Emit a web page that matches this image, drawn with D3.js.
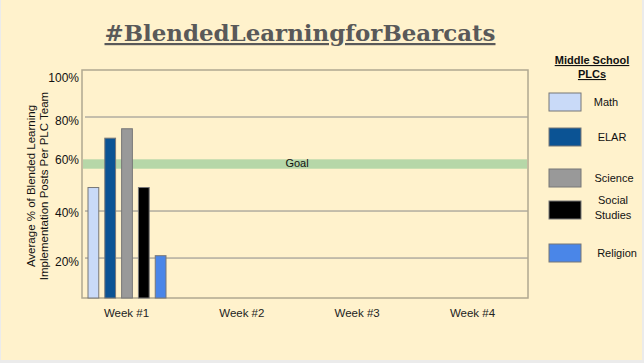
<!DOCTYPE html>
<html>
<head>
<meta charset="utf-8">
<script src="https://cdn.jsdelivr.net/npm/d3@7"></script>
<style>
  body { margin: 0; background: #ebebeb; }
  svg { display: block; }
</style>
</head>
<body>
<svg width="644" height="363"></svg>
<script>
// data
const weeks = ['Week #1', 'Week #2', 'Week #3', 'Week #4'];
const subjects = ['Math', 'ELAR', 'Science', 'Social Studies', 'Religion'];
const week1Values = [50, 71, 75, 50, 21];
const yTicks = [20, 40, 60, 80, 100];
const goalValue = 60;
const colors = ['#c9daf8', '#0b5394', '#999999', '#000000', '#4a86e8'];

const svg = d3.select('svg');

// fond crème
svg.append('rect')
  .attr('x', 1).attr('y', 0)
  .attr('width', 641).attr('height', 360)
  .attr('fill', '#fff2cc');

const plotLeft = 82, plotRight = 528, plotTop = 70, plotBottom = 298;

const y = d3.scaleLinear()
  .domain([3, 100])
  .range([plotBottom, plotTop]);

const x = d3.scalePoint()
  .domain(weeks)
  .range([126, 472]);

const xInner = d3.scaleBand()
  .domain(subjects)
  .range([-38, 40])
  .paddingInner(0.36);

// titre
svg.append('text')
  .attr('x', 300).attr('y', 41)
  .attr('text-anchor', 'middle')
  .attr('font-family', 'DejaVu Serif')
  .attr('font-weight', 'bold')
  .attr('font-size', 22)
  .attr('textLength', 391)
  .attr('lengthAdjust', 'spacingAndGlyphs')
  .attr('fill', '#595959')
  .attr('text-decoration', 'underline')
  .text('#BlendedLearningforBearcats');

// grille
svg.append('g')
  .selectAll('line')
  .data([20, 40, 80])
  .join('line')
  .attr('x1', plotLeft + 3).attr('x2', plotRight)
  .attr('y1', d => y(d)).attr('y2', d => y(d))
  .attr('stroke', '#8a8a8a')
  .attr('stroke-width', 1);

// bande objectif
svg.append('rect')
  .attr('x', plotLeft + 1)
  .attr('width', plotRight - plotLeft - 2)
  .attr('y', y(goalValue + 2))
  .attr('height', y(goalValue - 2) - y(goalValue + 2))
  .attr('fill', '#b6d7a8');

svg.append('text')
  .attr('x', 297).attr('y', y(goalValue) + 3)
  .attr('text-anchor', 'middle')
  .attr('font-family', 'Liberation Sans')
  .attr('font-size', 11)
  .attr('fill', '#111')
  .text('Goal');

// cadre
svg.append('rect')
  .attr('x', plotLeft).attr('y', plotTop)
  .attr('width', plotRight - plotLeft).attr('height', plotBottom - plotTop)
  .attr('fill', 'none')
  .attr('stroke', '#b0a890')
  .attr('stroke-width', 1.5);

// barres
svg.append('g')
  .attr('transform', `translate(${x(weeks[0])},0)`)
  .selectAll('rect')
  .data(week1Values)
  .join('rect')
  .attr('x', (d, i) => xInner(subjects[i]))
  .attr('width', xInner.bandwidth())
  .attr('y', d => y(d))
  .attr('height', d => plotBottom - y(d))
  .attr('fill', (d, i) => colors[i])
  .attr('stroke', '#777')
  .attr('stroke-width', 1);

// axe y
const yAxis = d3.axisLeft(y)
  .tickValues(yTicks)
  .tickSize(0)
  .tickPadding(3)
  .tickFormat(d => d + '%');

svg.append('g')
  .attr('transform', `translate(${plotLeft},0)`)
  .call(yAxis)
  .call(g => g.select('.domain').remove())
  .selectAll('text')
  .attr('font-family', 'Liberation Sans')
  .attr('font-size', 12)
  .attr('fill', '#111')
  .attr('dy', d => ({20: 7, 40: 5, 60: -1, 80: 7, 100: 11})[d] + 'px');

// axe x
svg.append('g')
  .attr('transform', `translate(0,${plotBottom})`)
  .call(d3.axisBottom(x).tickSize(0).tickPadding(11))
  .call(g => g.select('.domain').remove())
  .selectAll('text')
  .attr('font-family', 'Liberation Sans')
  .attr('font-size', 11.5)
  .attr('fill', '#222');

// titre axe y
svg.append('text')
  .attr('transform', 'translate(35,186) rotate(-90)')
  .attr('text-anchor', 'middle')
  .attr('font-family', 'Liberation Sans')
  .attr('font-size', 11.5)
  .attr('fill', '#111')
  .selectAll('tspan')
  .data(['Average % of Blended Learning', 'Implementation Posts Per PLC Team'])
  .join('tspan')
  .attr('x', 0)
  .attr('dy', (d, i) => i === 0 ? 0 : 13)
  .text(d => d);

// légende
const legendTitle = svg.append('text')
  .attr('text-anchor', 'middle')
  .attr('font-family', 'Liberation Sans')
  .attr('font-weight', 'bold')
  .attr('font-size', 11)
  .attr('fill', '#111')
  .attr('text-decoration', 'underline');
legendTitle.append('tspan').attr('x', 592).attr('y', 64).text('Middle School');
legendTitle.append('tspan').attr('x', 592).attr('y', 78).text('PLCs');

const legendY = [93, 128, 169, 201, 244];
const legendLabelX = [606, 612, 614, 613, 617];

const legend = svg.append('g')
  .selectAll('g')
  .data(subjects)
  .join('g')
  .attr('transform', (d, i) => `translate(549,${legendY[i]})`);

legend.append('rect')
  .attr('width', 32).attr('height', 18)
  .attr('fill', (d, i) => colors[i])
  .attr('stroke', '#777');

legend.append('text')
  .attr('text-anchor', 'middle')
  .attr('font-family', 'Liberation Sans')
  .attr('font-size', 11)
  .attr('fill', '#111')
  .each(function(d, i) {
    const parts = d === 'Social Studies' ? ['Social', 'Studies'] : [d];
    const t = d3.select(this);
    parts.forEach((p, j) => {
      t.append('tspan')
        .attr('x', legendLabelX[i] - 549)
        .attr('y', parts.length > 1 ? 3 + j * 15 : 13)
        .text(p);
    });
  });
</script>
</body>
</html>
